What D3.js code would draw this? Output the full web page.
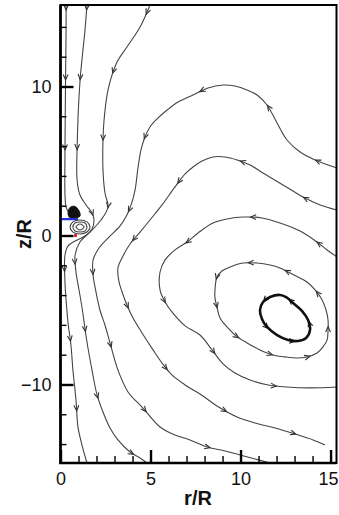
<!DOCTYPE html>
<html><head><meta charset="utf-8">
<script src="https://cdn.jsdelivr.net/npm/d3@7"></script>
<style>body{margin:0;background:#fff}svg{display:block}</style>
</head><body>
<script>
// axis ticks
const xMajor = [0, 5, 10, 15];
const xMinor = [1, 2, 3, 4, 6, 7, 8, 9, 11, 12, 13, 14];
const yMajor = [-10, 0, 10];
const yMinor = [-14, -12, -8, -6, -4, -2, 2, 4, 6, 8, 12, 14];

// streamlines, [r/R, z/R], listed in flow direction
const lineA = [[0.31,15.47],[0.31,13.79],[0.28,10.30],[0.25,5.74],[0.25,2.72],[0.31,1.91],[0.47,1.51]];
const lineB = [[1.47,15.47],[1.36,13.79],[1.08,10.30],[0.92,5.74],[0.92,3.72],[1.08,2.72],[1.42,2.05],[1.75,1.51],[1.86,1.04],[1.75,0.44],[1.36,-0.03],[0.81,-0.37],[0.42,-0.70],[0.25,-1.31],[0.25,-3.19],[0.31,-4.33],[0.42,-5.87],[0.58,-7.35],[0.69,-9.03],[0.86,-11.04],[0.97,-12.85],[1.19,-14.06],[1.47,-15.27]];
const lineC = [[4.97,15.47],[4.42,13.99],[3.69,12.65],[3.14,11.64],[2.64,9.77],[2.42,7.75],[2.36,6.41],[2.36,4.40],[2.47,2.85],[2.64,1.91],[2.25,1.04],[1.64,0.23],[1.08,-0.44],[0.81,-1.31],[0.86,-2.45],[1.03,-3.66],[1.19,-4.80],[1.47,-7.15],[1.75,-9.03],[2.03,-10.70],[2.36,-11.85],[2.75,-12.92],[3.19,-13.72],[3.86,-14.53],[4.42,-14.93],[4.81,-15.27]];
const lineF = [[15.36,4.53],[14.14,5.07],[13.31,5.60],[12.58,6.41],[12.03,7.55],[11.47,8.76],[10.92,9.43],[10.36,9.77],[9.69,10.03],[9.03,10.10],[8.19,9.90],[7.36,9.43],[6.53,8.96],[5.92,8.42],[5.36,7.82],[4.97,7.28],[4.69,6.61],[4.47,5.74],[4.31,4.60],[4.14,3.05],[3.92,2.05],[3.69,1.38],[3.31,0.64],[2.64,-0.17],[2.14,-0.84],[1.81,-1.64],[1.81,-2.65],[1.97,-3.79],[2.19,-5.00],[2.47,-6.01],[2.75,-7.21],[3.19,-9.03],[3.75,-10.50],[4.58,-11.58],[5.53,-12.85],[6.36,-13.39],[7.19,-13.72],[8.14,-14.19],[9.14,-14.46],[9.97,-14.73],[10.81,-15.00],[11.64,-15.27]];
const lineG = [[15.36,1.71],[14.42,2.05],[13.47,2.58],[12.36,3.39],[11.25,4.19],[10.53,4.73],[9.81,5.07],[9.14,5.27],[8.47,5.27],[7.86,5.00],[7.36,4.60],[6.92,4.13],[6.36,3.26],[5.64,2.05],[4.97,1.04],[4.42,0.23],[3.86,-0.57],[3.47,-1.38],[3.19,-2.18],[3.25,-3.12],[3.42,-3.79],[3.69,-4.66],[4.03,-5.54],[4.53,-6.54],[5.14,-7.68],[5.64,-8.56],[6.19,-9.36],[6.92,-10.03],[7.75,-10.64],[8.69,-11.44],[9.81,-12.18],[10.81,-12.58],[11.92,-12.92],[13.03,-13.32],[14.03,-13.72],[14.69,-14.06]];
const lineH = [[15.36,-1.44],[14.81,-0.97],[14.25,-0.44],[13.31,0.30],[12.19,0.84],[11.19,1.17],[10.14,1.24],[9.25,1.11],[8.47,0.84],[7.64,0.17],[7.03,-0.44],[6.36,-0.97],[5.81,-1.64],[5.53,-2.45],[5.53,-3.66],[5.81,-4.46],[6.19,-5.13],[6.92,-6.07],[7.75,-6.68],[8.42,-7.68],[9.03,-8.62],[9.69,-9.23],[10.53,-9.70],[11.53,-10.03],[12.58,-10.17],[13.86,-10.23],[15.36,-10.17]];
const loopOuter = [[8.58,-3.66],[8.58,-4.19],[8.69,-4.80],[8.86,-5.54],[9.25,-6.14],[9.75,-6.74],[10.36,-7.21],[11.08,-7.68],[11.81,-8.02],[12.47,-8.15],[13.14,-8.22],[13.69,-8.15],[14.25,-7.89],[14.58,-7.48],[14.81,-7.01],[14.86,-6.34],[14.86,-5.67],[14.75,-5.00],[14.53,-4.33],[14.19,-3.72],[13.69,-3.12],[12.97,-2.65],[12.19,-2.18],[11.64,-1.98],[10.92,-1.85],[10.14,-1.85],[9.42,-2.11],[8.97,-2.38],[8.69,-2.79]];
const loopInner = [[12.19,-3.99],[11.64,-4.13],[11.25,-4.46],[11.08,-5.00],[11.19,-5.60],[11.47,-6.14],[12.03,-6.68],[12.64,-7.01],[13.19,-7.08],[13.64,-6.88],[13.86,-6.34],[13.75,-5.67],[13.42,-5.07],[12.92,-4.53],[12.53,-4.13]];

// small recirculation next to the axis
const eddy1 = [[1.64,0.57],[1.47,0.23],[1.08,0.10],[0.69,0.23],[0.53,0.57],[0.69,0.91],[1.08,1.04],[1.47,0.91]];
const eddy2 = [[1.47,0.57],[1.36,0.30],[1.08,0.23],[0.81,0.30],[0.69,0.57],[0.81,0.84],[1.08,0.91],[1.36,0.84]];
const eddy3 = [[1.31,0.57],[1.08,0.37],[0.86,0.57],[1.08,0.77]];
const eddyCore = [[0.42,1.51],[0.55,1.90],[0.80,1.95],[1.03,1.65],[1.08,1.30],[0.78,1.17],[0.50,1.22]];
const bladeBlue = [[0,1.1],[0.97,1.1]];
const markRed = [[0.75,0],[0.92,0]];

const W = 339, H = 515;
const svg = d3.select("body").append("svg").attr("width", W).attr("height", H);
const x = d3.scaleLinear().domain([0, 15.33]).range([60.5, 336.5]);
const y = d3.scaleLinear().domain([-15.27, 15.47]).range([463, 5]);

svg.append("clipPath").attr("id", "plot").append("rect")
  .attr("x", x(0)).attr("y", y(15.47)).attr("width", x(15.33) - x(0)).attr("height", y(-15.27) - y(15.47));

const g = svg.append("g").attr("clip-path", "url(#plot)");
const lineGen = d3.line().x(d => x(d[0])).y(d => y(d[1])).curve(d3.curveCatmullRom.alpha(0.5));
const loopGen = d3.line().x(d => x(d[0])).y(d => y(d[1])).curve(d3.curveCatmullRomClosed.alpha(0.5));

const streams = [
  {pts: lineA, start: 5, step: 70},
  {pts: lineB, start: 5, step: 70},
  {pts: lineC, start: 10, step: 68},
  {pts: lineF, start: 23, step: 75},
  {pts: lineG, start: 36, step: 73},
  {pts: lineH, start: 25, step: 72},
  {pts: loopOuter, start: 10, step: 38, closed: true},
  {pts: loopInner, start: 8, step: 30, closed: true, width: 2.6, color: "#111"}
];

const stroke = "#444";
streams.forEach(s => {
  const p = g.append("path")
    .attr("d", (s.closed ? loopGen : lineGen)(s.pts))
    .attr("fill", "none")
    .attr("stroke", s.color || stroke)
    .attr("stroke-width", s.width || 1.1);
  const node = p.node();
  const len = node.getTotalLength();
  for (let L = s.start; L < len - 2; L += s.step) {
    const a = node.getPointAtLength(Math.max(0, L - 2));
    const b = node.getPointAtLength(L + 2);
    const ang = Math.atan2(b.y - a.y, b.x - a.x) * 180 / Math.PI;
    const c = node.getPointAtLength(L);
    g.append("path")
      .attr("d", "M-5.5,-2.4L0,0L-5.5,2.4")
      .attr("transform", `translate(${c.x},${c.y}) rotate(${ang})`)
      .attr("fill", "none")
      .attr("stroke", s.color || "#333")
      .attr("stroke-width", 1.1);
  }
});

// eddy next to the axis
[eddy1, eddy2, eddy3].forEach(e => {
  g.append("path").attr("d", loopGen(e)).attr("fill", "none")
    .attr("stroke", "#444").attr("stroke-width", 1.1);
});
g.append("path").attr("d", loopGen(eddyCore)).attr("fill", "#111").attr("stroke", "#111").attr("stroke-width", 1);

g.append("path").attr("d", d3.line().x(d => x(d[0])).y(d => y(d[1]))(bladeBlue))
  .attr("stroke", "#2233dd").attr("stroke-width", 2.4);

// axes
const axB = svg.append("g").attr("transform", `translate(0,${y(-15.27)})`)
  .call(d3.axisBottom(x).tickValues(xMajor).tickSize(-13).tickPadding(22).tickFormat(d3.format("d")));
const axBm = svg.append("g").attr("transform", `translate(0,${y(-15.27)})`)
  .call(d3.axisBottom(x).tickValues(xMinor).tickSize(-7).tickFormat(""));
const axL = svg.append("g").attr("transform", `translate(${x(0)},0)`)
  .call(d3.axisLeft(y).tickValues(yMajor).tickSize(-13).tickPadding(22).tickFormat(d3.format("d")));
const axLm = svg.append("g").attr("transform", `translate(${x(0)},0)`)
  .call(d3.axisLeft(y).tickValues(yMinor).tickSize(-6).tickFormat(""));
[axB, axBm, axL, axLm].forEach(a => {
  a.select(".domain").remove();
  a.selectAll(".tick line").attr("stroke", "#000").attr("stroke-width", 1.4);
  a.selectAll("text").attr("font-family", "Liberation Sans, Arial, sans-serif")
    .attr("font-size", 18).attr("fill", "#111");
});
[axB, axL].forEach(a => a.selectAll(".tick line").attr("stroke-width", 2.4));
axL.selectAll("text").attr("x", -9);
axB.selectAll("text").attr("y", 9);
// keep the last x label inside the canvas
axB.selectAll(".tick").filter(d => d === 15).select("text")
  .attr("text-anchor", "end").attr("x", W - 1 - x(15));

svg.append("path").attr("d", d3.line().x(d => x(d[0])).y(d => y(d[1]))(markRed))
  .attr("stroke", "#e01010").attr("stroke-width", 2.6);

// frame
svg.append("rect").attr("x", x(0)).attr("y", y(15.47))
  .attr("width", x(15.33) - x(0)).attr("height", y(-15.27) - y(15.47))
  .attr("fill", "none").attr("stroke", "#000").attr("stroke-width", 2);
svg.append("line").attr("x1", x(0)).attr("x2", x(0)).attr("y1", y(15.47)).attr("y2", y(-15.27))
  .attr("stroke", "#000").attr("stroke-width", 2.6);
svg.append("line").attr("x1", x(0) - 1.3).attr("x2", x(15.33)).attr("y1", y(-15.27)).attr("y2", y(-15.27))
  .attr("stroke", "#000").attr("stroke-width", 2.6);

// axis titles
svg.append("text").attr("x", 198).attr("y", 505).attr("text-anchor", "middle")
  .attr("font-family", "Liberation Sans, Arial, sans-serif").attr("font-weight", "bold")
  .attr("font-size", 20).attr("fill", "#111").text("r/R");
svg.append("text").attr("transform", "translate(31,234) rotate(-90)").attr("text-anchor", "middle")
  .attr("font-family", "Liberation Sans, Arial, sans-serif").attr("font-weight", "bold")
  .attr("font-size", 20).attr("fill", "#111").text("z/R");
</script>
</body></html>
